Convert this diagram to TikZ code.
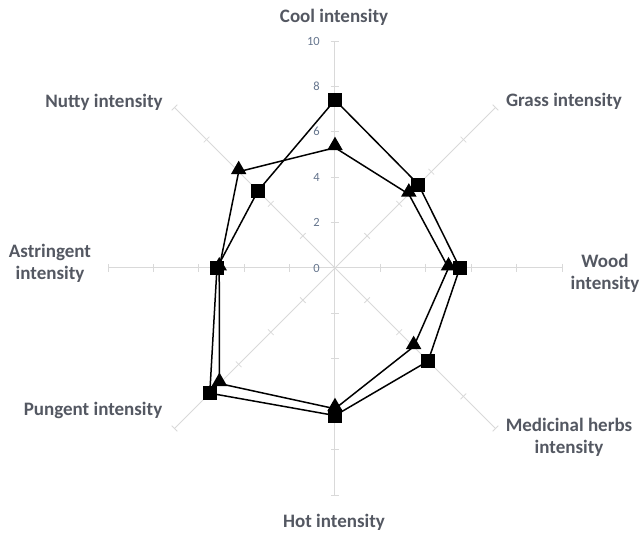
\documentclass[tikz,border=0pt]{standalone}
\usepackage{fontspec}
\setmainfont{Carlito}
\usepackage{xcolor}
\usepackage{tikz}
\usetikzlibrary{shapes.geometric, positioning, calc}
\definecolor{axgray}{RGB}{217,217,217}
\definecolor{catgray}{RGB}{84,88,98}
\definecolor{tickblue}{RGB}{100,116,140}
\tikzset{
  axisline/.style={draw=axgray, line width=1pt},
  tickmark/.style={draw=axgray, line width=0.8pt},
  catlabel/.style={font=\bfseries\fontsize{19}{22}\selectfont, text=catgray, align=center},
  ticklabel/.style={font=\fontsize{12.5}{14}\selectfont, text=tickblue, anchor=east, inner sep=1pt},
  series/.style={draw=black, line width=1.5pt, line join=miter},
  sqmark/.style={rectangle, fill=black, minimum size=14pt, inner sep=0pt},
  trimark/.style={regular polygon, regular polygon sides=3, fill=black, minimum size=18pt,
    inner sep=0pt, yshift=2pt},
}
\def\unitlen{22.7}

\begin{document}
\begin{tikzpicture}[x=1pt, y=1pt]
      \useasboundingbox (-335,-266) rectangle (306,268);
      % axes with tick marks
      \foreach \ang in {0,45,...,315} {
        \draw[axisline] (0,0) -- (\ang:10*\unitlen);
        \foreach \r in {2,4,...,10}
          \draw[tickmark] ($(\ang:\r*\unitlen)+(\ang+90:4)$) -- ($(\ang:\r*\unitlen)+(\ang-90:4)$);
      }
      \foreach \r in {0,2,...,10}
        \node[ticklabel] (t\r) at (-14,\r*\unitlen) {\r};
      % category labels
      \node[catlabel] (cool) at (-1,251) {Cool intensity};
      \node[catlabel] (grass) at (229,167) {Grass intensity};
      \node[catlabel] (wood) at (270,-5) {Wood\\intensity};
      \node[catlabel] (herbs) at (234,-169) {Medicinal herbs\\intensity};
      \node[catlabel] (hot) at (-1,-254) {Hot intensity};
      \node[catlabel] (pungent) at (-242,-142) {Pungent intensity};
      \node[catlabel] (astr) at (-285,5) {Astringent\\intensity};
      \node[catlabel] (nutty) at (-231,166) {Nutty intensity};
      % data points
      \foreach \ang/\a/\b [count=\i] in {90/7.4/5.3, 45/5.2/4.6, 0/5.5/5.0, -45/5.8/4.9,
          -90/6.5/6.2, -135/7.8/7.2, 180/5.2/5.1, 135/4.8/6.0} {
        \coordinate (s\i) at (\ang:\a*\unitlen);
        \coordinate (r\i) at (\ang:\b*\unitlen);
      }
      \draw[series] (s1) -- (s2) -- (s3) -- (s4) -- (s5) -- (s6) -- (s7) -- (s8) -- cycle;
      \draw[series] (r1) -- (r2) -- (r3) -- (r4) -- (r5) -- (r6) -- (r7) -- (r8) -- cycle;
      \foreach \i in {1,...,8} {
        \node[sqmark] (sq\i) at (s\i) {};
        \node[trimark] (tr\i) at (r\i) {};
      }
    \end{tikzpicture}
\end{document}
